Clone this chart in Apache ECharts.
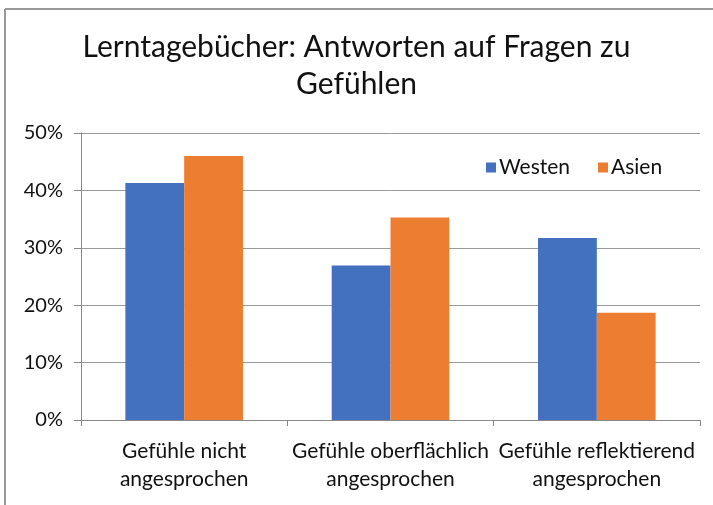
<!DOCTYPE html>
<html>
<head>
<meta charset="utf-8">
<script src="https://cdn.jsdelivr.net/npm/echarts@6/dist/echarts.min.js"></script>
<style>
html,body{margin:0;padding:0;background:#fff;}
#chart{width:713px;height:505px;}
</style>
</head>
<body>
<div id="chart"></div>
<script>
var titleText = 'Lerntagebücher: Antworten auf Fragen zu\nGefühlen';
var categories = ['Gefühle nicht\nangesprochen', 'Gefühle oberflächlich\nangesprochen', 'Gefühle reflektierend\nangesprochen'];
var seriesNames = ['Westen', 'Asien'];
var westen = [0.413, 0.269, 0.317];
var asien = [0.460, 0.353, 0.187];
var yTicks = [0, 0.1, 0.2, 0.3, 0.4, 0.5];

var font = 'Lato';
var chart = echarts.init(document.getElementById('chart'), null, {renderer: 'canvas'});
chart.setOption({
  backgroundColor: '#fff',
  animation: false,
  title: {
    text: titleText,
    left: 'center',
    top: 24,
    textStyle: {fontFamily: font, fontSize: 30, fontWeight: 'normal', color: '#111', lineHeight: 37}
  },
  legend: {
    data: seriesNames,
    left: 481,
    top: 152,
    itemWidth: 10,
    itemHeight: 10,
    itemGap: 28,
    icon: 'rect',
    textStyle: {fontFamily: font, fontSize: 21, color: '#111', padding: [0,0,0,-2]}
  },
  grid: {left: 81, right: 13, top: 133, bottom: 85, containLabel: false},
  xAxis: {
    type: 'category',
    data: categories,
    axisLine: {lineStyle: {color: '#888', width: 1}},
    axisTick: {show: true, length: 6, lineStyle: {color: '#888'}},
    axisLabel: {fontFamily: font, fontSize: 21, color: '#111', lineHeight: 28, margin: 17, interval: 0}
  },
  yAxis: {
    type: 'value',
    min: yTicks[0],
    max: yTicks[yTicks.length - 1],
    interval: 0.1,
    axisLine: {show: true, lineStyle: {color: '#888', width: 1}},
    axisTick: {show: true, length: 7, lineStyle: {color: '#888'}},
    splitLine: {show: true, lineStyle: {color: '#999', width: 1}},
    axisLabel: {fontFamily: font, fontSize: 20, color: '#111', margin: 18,
      formatter: function (v) { return Math.round(v * 100) + '%'; }}
  },
  series: [
    {name: seriesNames[0], type: 'bar', data: westen, itemStyle: {color: '#4470C0'}, barGap: '0%', barCategoryGap: '43%'},
    {name: seriesNames[1], type: 'bar', data: asien, itemStyle: {color: '#ED7D31'}, barGap: '0%', barCategoryGap: '43%'}
  ],
  graphic: [
    {type: 'line', shape: {x1: 5, y1: 9, x2: 713, y2: 9}, style: {stroke: '#999', lineWidth: 2}},
    {type: 'line', shape: {x1: 5, y1: 9, x2: 5, y2: 505}, style: {stroke: '#999', lineWidth: 2}}
  ]
});
</script>
</body>
</html>
